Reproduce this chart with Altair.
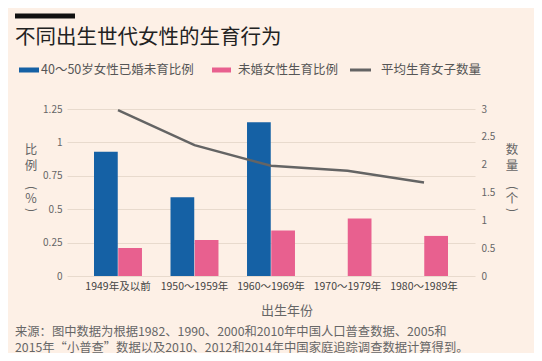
import altair as alt
import pandas as pd

# ---------------- data ----------------
categories = ["1949年及以前", "1950～1959年", "1960～1969年", "1970～1979年", "1980～1989年"]
childless_rate = [0.93, 0.59, 1.15, None, None]          # 40～50岁女性已婚未育比例 (%)
unmarried_birth_rate = [0.21, 0.27, 0.34, 0.43, 0.30]   # 未婚女性生育比例 (%)
avg_children = [2.98, 2.35, 1.98, 1.89, 1.68]           # 平均生育女子数量 (个)
series_names = ["40～50岁女性已婚未育比例", "未婚女性生育比例"]
line_name = "平均生育女子数量"
series_colors = ["#1561a5", "#e8608f"]
line_color = "#646464"
y_left_ticks = [0, 0.25, 0.5, 0.75, 1, 1.25]
y_right_ticks = [0, 0.5, 1, 1.5, 2, 2.5, 3]
title_text = "不同出生世代女性的生育行为"
x_title = "出生年份"
left_title_chars = ["比", "例", "(", "%", ")"]
right_title_chars = ["数", "量", "(", "个", ")"]
source_lines = [
    "来源：图中数据为根据1982、1990、2000和2010年中国人口普查数据、2005和",
    "2015年“小普查”数据以及2010、2012和2014年中国家庭追踪调查数据计算得到。",
]

rows = []
for c, a, b in zip(categories, childless_rate, unmarried_birth_rate):
    if a is not None:
        rows.append({"cat": c, "series": series_names[0], "value": a})
    if b is not None:
        rows.append({"cat": c, "series": series_names[1], "value": b})
bars_df = pd.DataFrame(rows)
line_df = pd.DataFrame({"cat": categories, "avg": avg_children})

FONT = "Noto Sans CJK SC"
BG = "#fdf0e6"
GRID = "#e8dacd"
W, H = 408, 167

x_enc = alt.X(
    "cat:N", sort=categories,
    scale=alt.Scale(paddingInner=0.373, paddingOuter=0.353),
    axis=alt.Axis(title=None, labelAngle=0, labelFontSize=10.5, labelColor="#444",
                  labelPadding=5, domain=False, ticks=False, grid=False, labelFont=FONT),
)

bars = alt.Chart(bars_df).mark_bar().encode(
    x=x_enc,
    xOffset=alt.XOffset("series:N", sort=series_names,
                        scale=alt.Scale(domain=series_names, paddingInner=0.02, paddingOuter=0)),
    y=alt.Y("value:Q", scale=alt.Scale(domain=[0, 1.25], nice=False),
            axis=alt.Axis(values=y_left_ticks, labelExpr="datum.value + ''", title=None, orient="left",
                          domain=False, ticks=False, labelPadding=5, gridColor=GRID,
                          labelFontSize=10, labelColor="#666", labelFont=FONT)),
    color=alt.Color("series:N", scale=alt.Scale(domain=series_names, range=series_colors), legend=None),
)

line = alt.Chart(line_df).mark_line(color=line_color, strokeWidth=2.5).encode(
    x=alt.X("cat:N", sort=categories),
    y=alt.Y("avg:Q", scale=alt.Scale(domain=[0, 3], nice=False),
            axis=alt.Axis(values=y_right_ticks, labelExpr="datum.value + ''", title=None, orient="right",
                          domain=False, ticks=False, grid=False, labelPadding=6,
                          labelFontSize=10, labelColor="#666", labelFont=FONT)),
)

one = pd.DataFrame({"k": [0]})

def txt(text, x, y, size, color, align="left", baseline="middle", weight="normal", angle=0):
    return alt.Chart(one).mark_text(
        text=text, align=align, baseline=baseline, font=FONT, fontSize=size,
        color=color, fontWeight=weight, angle=angle
    ).encode(x=alt.value(x), y=alt.value(y))

def rule(x1, x2, y, color, width):
    return alt.Chart(one).mark_rule(color=color, strokeWidth=width).encode(
        x=alt.value(x1), x2=alt.value(x2), y=alt.value(y))

# positions are relative to plot origin (page x=67, y=109)
char_y = [41, 57, 79, 90, 101]
decor = [
    rule(-52, 8, -93, "#111111", 5),
    txt(title_text, -52, -71, 20.5, "#222222"),
    rule(-48, -28, -39, series_colors[0], 5),
    txt(series_names[0], -26, -39, 12.5, "#555555"),
    rule(145, 164, -39, series_colors[1], 5),
    txt(series_names[1], 171, -39, 12.5, "#555555"),
    rule(283, 304, -39, line_color, 3),
    txt(line_name, 314, -39, 12.5, "#555555"),
    txt(x_title, 220, 202, 13, "#666666", align="center"),
    txt(source_lines[0], -52, 223, 12.3, "#666666"),
    txt(source_lines[1], -52, 239, 12.3, "#666666"),
]
for chars, cx in ((left_title_chars, -36), (right_title_chars, 445)):
    for ch, cy in zip(chars, char_y):
        if ch in "()":
            decor.append(txt(ch, cx, cy, 12, "#666666", align="center", angle=90))
        else:
            decor.append(txt(ch, cx, cy, 12.5, "#666666", align="center"))

chart = alt.layer(bars, line, *decor).resolve_scale(y="independent").properties(
    width=W, height=H,
    autosize=alt.AutoSizeParams(type="none"),
    padding={"left": 59, "top": 101, "right": 59, "bottom": 77},
    background=BG,
).configure_view(stroke=None).configure_axis(labelFont=FONT)

chart.save("out.html", embed_options={"renderer": "svg", "actions": False})
